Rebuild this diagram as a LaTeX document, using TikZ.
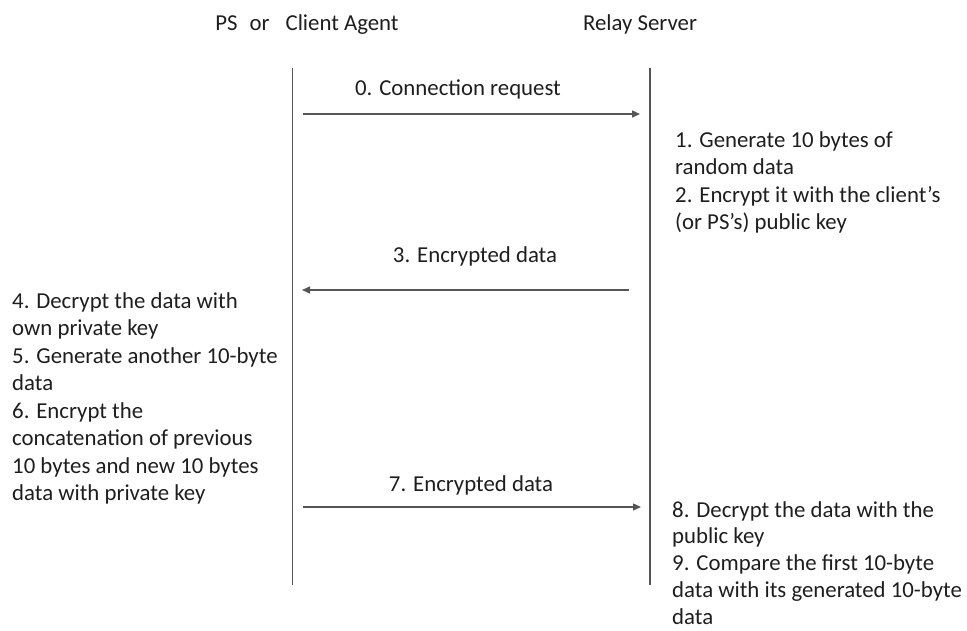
\documentclass[tikz,border=0pt]{standalone}
\usepackage{fontspec}
\setmainfont{Carlito}
\usetikzlibrary{arrows.meta}
\definecolor{txt}{HTML}{1E1E1E}
\definecolor{ln}{HTML}{555555}
\begin{document}
\begin{tikzpicture}[x=1pt,y=-1pt,
  lbl/.style={inner sep=0pt, text=txt, font=\fontsize{22.8}{27.5}\selectfont},
  life/.style={draw=ln, line width=1.4pt},
  msg/.style={draw=ln, line width=1.4pt, -{Triangle[length=8pt,width=7pt]}}]
\useasboundingbox (0,0) rectangle (967,630);
% headers
\node[lbl, anchor=base] (hA) at (307,30) {PS\hspace{12pt}or\hspace{16pt}Client Agent};
\node[lbl, anchor=base] (hB) at (640,30) {Relay Server};
% lifelines
\coordinate (aT) at (292.5,68); \coordinate (aB) at (292.5,585);
\coordinate (bT) at (650,68);   \coordinate (bB) at (650,585);
\draw[life] (aT) -- (aB);
\draw[life] (bT) -- (bB);
% message end points
\coordinate (m0s) at (303,114); \coordinate (m0e) at (640,114);
\coordinate (m3s) at (629,290); \coordinate (m3e) at (302,290);
\coordinate (m7s) at (303,507); \coordinate (m7e) at (641,507);
\draw[msg] (m0s) -- (m0e);
\draw[msg] (m3s) -- (m3e);
\draw[msg] (m7s) -- (m7e);
% message labels
\node[lbl, anchor=base] (l0) at (458,95) {0. Connection request};
\node[lbl, anchor=base] (l3) at (475,262) {3. Encrypted data};
\node[lbl, anchor=base] (l7) at (471,491) {7. Encrypted data};
% notes
\node[lbl, align=left, anchor=north west] (n12) at (675,131) {1. Generate 10 bytes of\\random data\\2. Encrypt it with the client’s\\(or PS’s) public key};
\node[lbl, align=left, anchor=north west] (n456) at (12,292) {4. Decrypt the data with\\own private key\\5. Generate another 10-byte\\data\\6. Encrypt the\\concatenation of previous\\10 bytes and new 10 bytes\\data with private key};
\node[lbl, align=left, anchor=north west, font=\fontsize{22.8}{26.8}\selectfont] (n89) at (672,501) {8. Decrypt the data with the\\public key\\9. Compare the first 10-byte\\data with its generated 10-byte\\data};
\end{tikzpicture}
\end{document}
